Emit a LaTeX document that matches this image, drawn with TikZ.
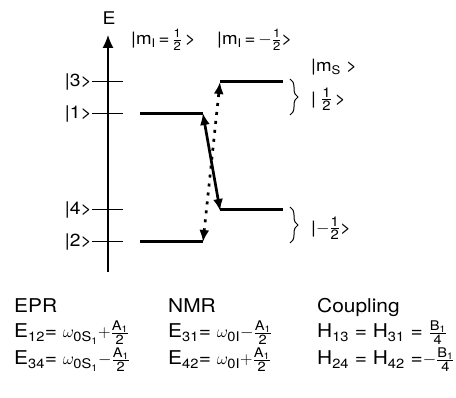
\documentclass[tikz,border=0pt]{standalone}
\usepackage{amsmath}
\usepackage{fontspec}
\setmainfont{TeX Gyre Heros}[FakeStretch=1.1]
\usetikzlibrary{arrows.meta,decorations.pathreplacing}
\newcommand{\hfr}[2]{\ensuremath{\frac{\text{#1}}{\text{#2}}}}
\newcommand{\bfr}[2]{\ensuremath{\frac{\text{\fontsize{13.5}{14}\selectfont #1}}{\text{\fontsize{13.5}{14}\selectfont #2}}}}
\tikzset{
  lvlfont/.style={font=\fontsize{17.5}{20}\selectfont, inner sep=0pt},
  topfont/.style={font=\fontsize{17}{20}\selectfont, inner sep=0pt},
  eqfont/.style={font=\fontsize{19}{22}\selectfont, inner sep=0pt, anchor=base west},
  axisline/.style={line width=1.2pt},
  tickline/.style={line width=1pt},
  level/.style={line width=3pt},
  solidarr/.style={line width=2.7pt, {Latex[length=12pt,width=10pt]}-{Latex[length=12pt,width=10pt]}, shorten <=-1pt, shorten >=-1pt},
  dotarr/.style={line width=2.7pt, dash pattern=on 3pt off 6pt, {Latex[length=12pt,width=10pt]}-{Latex[length=12pt,width=10pt]}},
  bracestyle/.style={line width=1pt, decorate, decoration={brace, amplitude=8pt}},
}
\begin{document}
\begin{tikzpicture}[x=1pt,y=-1pt]
\useasboundingbox (0,0) rectangle (456,398);
% axis
\coordinate (ax0) at (108,272);
\coordinate (ax1) at (108,35);
\draw[axisline, -{Latex[length=13pt,width=11pt]}] (ax0) -- (ax1);
\node[lvlfont] (E) at (109,18) {E};
% ticks and labels
\foreach \n/\y in {3/82,1/114,4/210,2/242}{
  \coordinate (ta\n) at (92,\y);
  \coordinate (tb\n) at (123,\y);
  \draw[tickline] (ta\n) -- (tb\n);
  \node[lvlfont, anchor=east] (lab\n) at (ta\n) {|\n>};
}
% levels
\coordinate (L1a) at (140,114); \coordinate (L1b) at (203,114);
\coordinate (L2a) at (140,242); \coordinate (L2b) at (203,242);
\coordinate (L3a) at (220,82);  \coordinate (L3b) at (283,82);
\coordinate (L4a) at (220,210); \coordinate (L4b) at (283,210);
\draw[level] (L1a) -- (L1b);
\draw[level] (L2a) -- (L2b);
\draw[level] (L3a) -- (L3b);
\draw[level] (L4a) -- (L4b);
% transitions
\draw[solidarr] (L1b) -- (L4a);
\draw[dotarr] (L2b) -- (L3a);
% braces
\coordinate (bu0) at (290,79); \coordinate (bu1) at (290,115);
\coordinate (bl0) at (290,207); \coordinate (bl1) at (290,243);
\draw[bracestyle] (bu0) -- (bu1);
\draw[bracestyle] (bl0) -- (bl1);
% top labels
\node[topfont, anchor=west] (mI1) at (131,40) {|m$_\text{I}$\,=\,\hfr{1}{2}\,>};
\node[topfont, anchor=west] (mI2) at (217,40) {|m$_\text{I}$\,=\,$-$\hfr{1}{2}>};
\node[topfont, anchor=west] (mS) at (311,67) {|m$_\text{S}$ >};
\node[topfont, anchor=west] (sU) at (311,99) {|\ \bfr{1}{2}\,>};
\node[topfont, anchor=west] (sD) at (311,228) {|$-$\bfr{1}{2}>};
% bottom text
\node[eqfont] (epr) at (14,313) {EPR};
\node[eqfont] (nmr) at (168,313) {NMR};
\node[eqfont] (cpl) at (317,313) {Coupling};
\node[eqfont] (e12) at (14,338) {E$_{\text{12}}$= $\omega_{\text{0S}_{\text{1}}}{+}$\hfr{A$_\text{1}$}{2}};
\node[eqfont] (e31) at (168,338) {E$_{\text{31}}$= $\omega_{\text{0I}}{-}$\hfr{A$_\text{1}$}{2}};
\node[eqfont] (h13) at (317,338) {H$_{\text{13}}$ = H$_{\text{31}}$ = \hfr{B$_\text{1}$}{4}};
\node[eqfont] (e34) at (14,365) {E$_{\text{34}}$= $\omega_{\text{0S}_{\text{1}}}{-}$\hfr{A$_\text{1}$}{2}};
\node[eqfont] (e42) at (168,365) {E$_{\text{42}}$= $\omega_{\text{0I}}{+}$\hfr{A$_\text{1}$}{2}};
\node[eqfont] (h24) at (317,365) {H$_{\text{24}}$ = H$_{\text{42}}$ =$-$\hfr{B$_\text{1}$}{4}};
\end{tikzpicture}
\end{document}
